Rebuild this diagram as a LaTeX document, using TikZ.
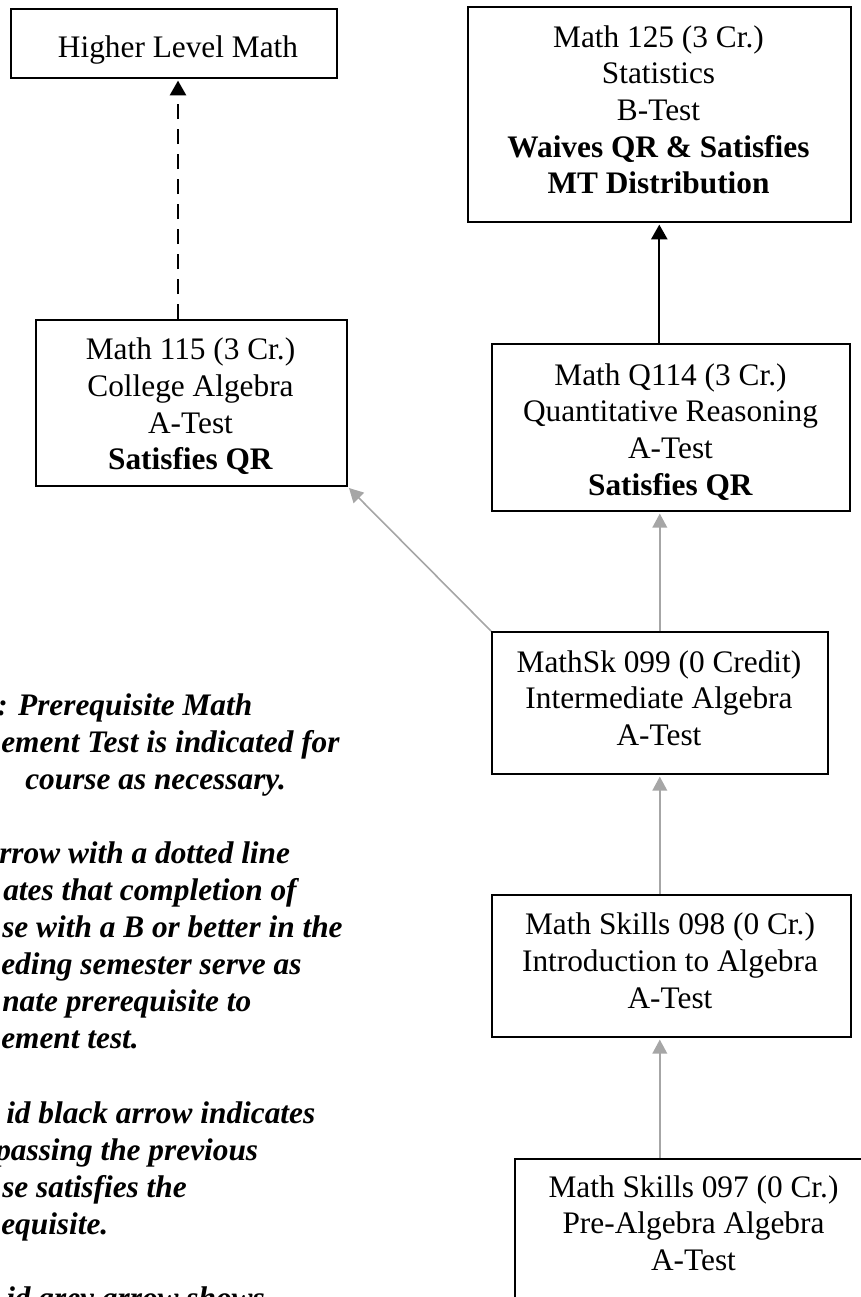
\documentclass[tikz,border=0pt]{standalone}
\usepackage{fontspec}
\setmainfont{Liberation Serif}
\usetikzlibrary{arrows.meta,calc}
\definecolor{arrowgrey}{HTML}{A6A6A6}
\newcommand{\fl}{\rule{0pt}{20pt}}
\tikzset{
  box/.style={draw, line width=1.2pt, inner sep=0pt, anchor=north west},
  btxt/.style={font=\fontsize{23.5pt}{27.5pt}\selectfont, align=center, inner sep=0pt, anchor=north},
  legend/.style={font=\fontsize{23.5pt}{27.8pt}\selectfont\bfseries\itshape, inner sep=0pt, anchor=base west},
  blackarrow/.style={line width=1.7pt, -{Triangle[length=11pt,width=12pt]}, shorten >=1.5pt},
  dasharrow/.style={blackarrow, dash pattern=on 11.25pt off 7.5pt},
  greyarrow/.style={draw=arrowgrey, line width=1.2pt, -{Triangle[length=10.5pt,width=11pt]}, shorten >=1.5pt}
}
\begin{document}
\begin{tikzpicture}[x=0.75pt,y=-0.75pt]
\path[use as bounding box] (0,0) rectangle (861,1297);
\clip (0,0) rectangle (861,1297);

% boxes
\node[box, minimum width=244.5pt, minimum height=51.75pt] (hl) at (10,8) {};
\node[box, minimum width=287.25pt, minimum height=161.25pt] (m125) at (467,6) {};
\node[box, minimum width=233.25pt, minimum height=124.5pt] (m115) at (35,319) {};
\node[box, minimum width=268.5pt, minimum height=125.25pt] (q114) at (491,343) {};
\node[box, minimum width=252pt, minimum height=106.5pt] (m099) at (491,631) {};
\node[box, minimum width=269.25pt, minimum height=106.5pt] (m098) at (491,894) {};
\node[box, minimum width=269.25pt, minimum height=136.5pt] (m097) at (514,1158) {};

% box texts
\node[btxt] (hlt) at (178,30.33) {\fl Higher Level Math};
\node[btxt] (m125t) at (658.5,20.33) {\fl Math 125 (3 Cr.)\\Statistics\\B-Test\\\textbf{Waives QR \& Satisfies}\\\textbf{MT Distribution}};
\node[btxt] (m115t) at (190.5,332.8) {\fl Math 115 (3 Cr.)\\College Algebra\\A-Test\\\textbf{Satisfies QR}};
\node[btxt] (q114t) at (670.5,358.3) {\fl Math Q114 (3 Cr.)\\Quantitative Reasoning\\A-Test\\\textbf{Satisfies QR}};
\node[btxt] (m099t) at (659,645.3) {\fl MathSk 099 (0 Credit)\\Intermediate Algebra\\A-Test};
\node[btxt] (m098t) at (670,907.8) {\fl Math Skills 098 (0 Cr.)\\Introduction to Algebra\\A-Test};
\node[btxt] (m097t) at (693.5,1170.3) {\fl Math Skills 097 (0 Cr.)\\Pre-Algebra Algebra\\A-Test};

% connectors
\draw[dasharrow] (m115.north -| hlt) -- (hl.south -| hlt);
\draw[blackarrow] (q114.north -| m125.south) -- (m125.south);
\draw[greyarrow] (m099.north west) -- (m115.south east);
\draw[greyarrow] (m099.north) -- (q114.south -| m099.north);
\draw[greyarrow] (m098.north -| m099.south) -- (m099.south);
\draw[greyarrow] (m097.north -| m099.south) -- (m098.south -| m099.south);

% legend (cut at the left edge)
\node[legend] (l1) at (-3,715) {: Prerequisite Math};
\node[legend] (l2) at (1,752.1) {ement Test is indicated for};
\node[legend] (l3) at (25,789.2) {course as necessary.};
\node[legend] (l4) at (-1,863.4) {rrow with a dotted line};
\node[legend] (l5) at (3,900.5) {ates that completion of};
\node[legend] (l6) at (2,937.6) {se with a B or better in the};
\node[legend] (l7) at (1,974.7) {eding semester serve as};
\node[legend] (l8) at (2,1011.8) {nate prerequisite to};
\node[legend] (l9) at (1,1048.9) {ement test.};
\node[legend] (l10) at (6,1123.1) {id black arrow indicates};
\node[legend] (l11) at (-5,1160.2) {passing the previous};
\node[legend] (l12) at (2,1197.3) {se satisfies the};
\node[legend] (l13) at (1,1234.4) {equisite.};
\node[legend] (l14) at (6,1308.6) {id grey arrow shows};
\end{tikzpicture}
\end{document}
